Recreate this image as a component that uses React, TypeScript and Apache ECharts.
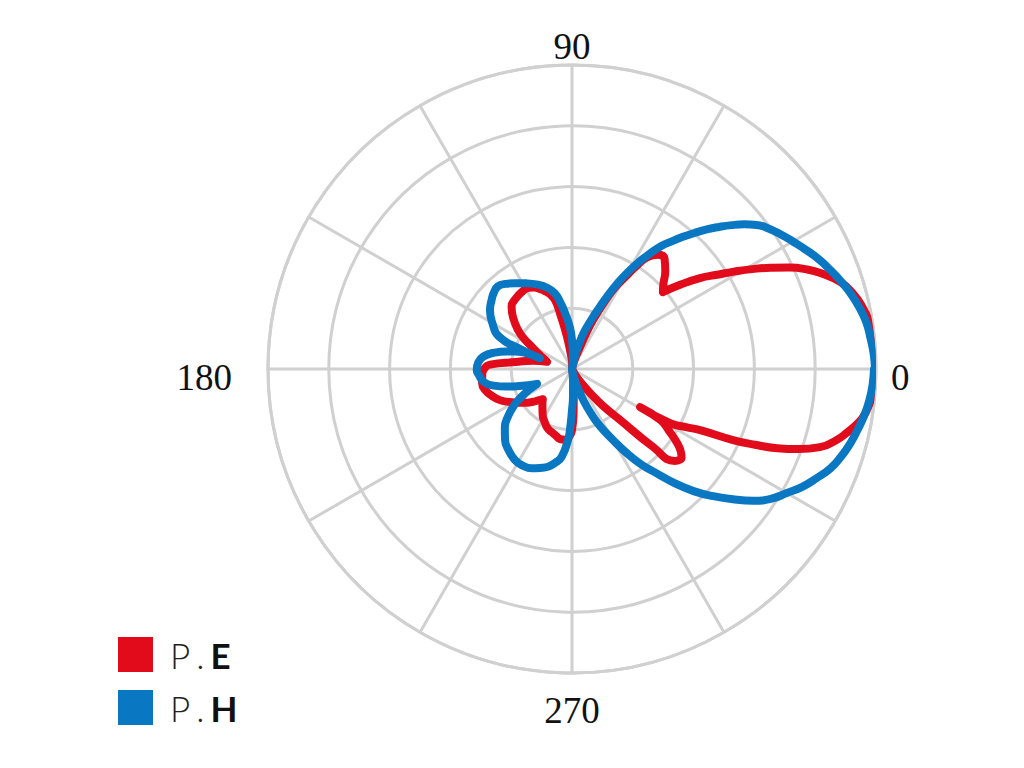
import React, { useEffect, useRef } from "react";
import * as echarts from "echarts";

// Pattern readings: angle (deg) and radius (outer ring = 304, five rings of 60.8)
const peAngles = [0, 3, 6, 9, 12, 15, 18, 21, 23, 25, 27, 29, 31, 33, 35.4, 37.9, 40.2, 43, 46.3, 50, 53, 56, 58, 60, 62.6, 64.5, 66.8, 68.5, 70, 75, 80, 88, 92, 96, 98, 100, 102, 103.8, 107, 111, 115, 118, 123, 129, 134, 139, 144, 148, 151, 155, 160, 164, 168, 173, 177, 180, 184, 189, 194, 199, 203, 206.6, 210, 213, 217, 220, 223, 226, 229, 232, 235.5, 238.7, 242, 245, 249, 253.5, 257, 260, 264.4, 268, 270, 272, 274, 278, 285, 300, 304, 307, 310, 313.3, 316.1, 318.2, 320, 321, 323, 325, 327.5, 330, 330.8, 331.1, 333, 334.5, 336.2, 337.5, 338.9, 340.5, 342.5, 345, 346.9, 349, 350.6, 353, 355.4, 358, 360];
const peValues = [305, 304.5, 303, 301, 297, 291, 282, 267, 255, 240, 223, 206, 189, 173, 157, 137, 119, 125, 135, 144, 143, 135, 121, 106, 89, 72, 53, 38, 23, 8, 0, 5, 10, 19, 28, 40, 55, 71, 79, 85, 90, 92, 92, 90, 87, 78, 67, 56, 46, 38, 30, 26, 40, 57, 82, 88, 90, 91, 89, 84, 79, 73, 67, 62, 56, 51, 46, 42, 45, 48, 52, 56, 59, 62, 65, 67, 69, 71, 71, 67, 61, 45, 25, 8, 0, 8, 18, 30, 48, 70, 112, 138, 141, 141, 136, 128, 115, 102, 78, 112, 128, 142, 176, 198, 220, 240, 260, 274, 282, 290, 295, 299, 302, 304, 305];

const phAngles = [0, 3, 6, 9, 12, 15, 18, 21, 24, 27, 30, 33, 36, 38, 40, 42, 44, 46, 48, 50, 52, 54, 56, 58, 60, 62, 64, 66, 68, 70, 72, 74, 76, 78, 81, 84, 86, 88, 90, 93, 97, 100, 103, 107, 112, 118, 123.6, 128, 132, 136, 139.3, 144.3, 150, 156, 159, 161.5, 163, 165, 168, 172, 176, 180.6, 184, 188, 192, 195, 198, 203, 206, 208.8, 212, 216.7, 221, 226.7, 232, 237.9, 243, 247.9, 252, 256.2, 260, 263.3, 266.8, 268.5, 270, 272, 274, 277, 280, 284, 287, 290, 293, 296, 300, 303, 306, 309, 312, 315, 318, 321, 324, 327, 330, 333, 336, 339, 342, 345, 348, 351, 354, 357, 360];
const phValues = [303, 302, 300, 298, 294, 289, 283, 276.5, 270, 262.5, 255, 248, 240.5, 234, 225, 215, 204.5, 194, 183, 172.5, 162, 152, 139, 126, 112, 97, 82, 67, 56, 46, 38, 28, 18, 8, 0, 8, 12, 20, 29, 42, 56, 68, 78, 85, 91, 97, 103, 108, 111, 109, 106, 101, 92, 80, 55, 34, 60, 68, 79, 89.5, 94, 95.3, 93, 89.6, 80, 68, 55, 38, 48, 57.4, 68, 80, 89, 97.6, 103, 107.4, 108.5, 107.2, 104, 100.6, 95, 88.3, 71, 56, 41, 28, 15, 6, 0, 10, 20, 33, 48, 63, 82, 100, 118, 134, 154, 173, 190, 207, 224, 238, 248, 259, 268, 277, 283, 288, 292, 296, 299, 301, 302, 302.5, 303];

const angleTickLabels = [0, 90, 180, 270];
const seriesNames = ["P.E", "P.H"];
const seriesColors = ["#e20b1b", "#0a77c2"];

const GRID = "#d0d0d0";

export default function App() {
  const ref = useRef<HTMLDivElement>(null);
  useEffect(() => {
    if (!ref.current) return;
    const chart = echarts.init(ref.current, undefined, { renderer: "svg" });
    const toData = (angs: number[], vals: number[]) => angs.map((a, i) => [vals[i], a]);
    chart.setOption({
      animation: false,
      backgroundColor: "#ffffff",
      polar: { center: [572, 369], radius: 304 },
      angleAxis: {
        type: "value",
        min: 0,
        max: 360,
        interval: 30,
        startAngle: 0,
        clockwise: false,
        axisLine: { show: true, lineStyle: { color: GRID, width: 3 } },
        axisTick: { show: false },
        splitLine: { show: true, lineStyle: { color: GRID, width: 3 } },
        axisLabel: {
          margin: 0,
          formatter: (v: number) => {
            if (v >= 360 || !angleTickLabels.includes(v)) return "";
            return `{l${v}|${v}}`;
          },
          rich: {
            l0: { fontFamily: "Liberation Serif", fontSize: 37, color: "#111", padding: [16, 0, 0, 15] },
            l90: { fontFamily: "Liberation Serif", fontSize: 37, color: "#111", padding: [0, 0, 0, 0] },
            l180: { fontFamily: "Liberation Serif", fontSize: 37, color: "#111", padding: [16, 36, 0, 0] },
            l270: { fontFamily: "Liberation Serif", fontSize: 37, color: "#111", padding: [19, 0, 0, 0] },
          },
        },
      },
      radiusAxis: {
        type: "value",
        min: 0,
        max: 304,
        interval: 60.8,
        axisLine: { show: false },
        axisTick: { show: false },
        axisLabel: { show: false },
        splitLine: { show: true, lineStyle: { color: GRID, width: 3 } },
      },
      legend: {
        data: seriesNames,
        orient: "vertical",
        left: 118,
        top: 637,
        itemWidth: 35,
        itemHeight: 35,
        itemGap: 18,
        icon: "rect",
        padding: 0,
        formatter: (name: string) => {
          const [p, q] = name.split(".");
          return `{a|${p}}{d|.}{b|${q}}`;
        },
        textStyle: {
          rich: {
            a: { fontFamily: "Lato", fontWeight: 300, fontSize: 35, color: "#222", padding: [0, 0, 0, 12], lineHeight: 35 },
            d: { fontFamily: "Lato", fontWeight: 300, fontSize: 35, color: "#222", padding: [0, 6, 0, 6], lineHeight: 35 },
            b: { fontFamily: "Lato", fontWeight: "bold", fontSize: 35, color: "#111", lineHeight: 35 },
          },
        },
      },
      series: [
        {
          name: seriesNames[0],
          type: "line",
          coordinateSystem: "polar",
          data: toData(peAngles, peValues),
          showSymbol: false,
          smooth: 0.5,
          color: seriesColors[0],
          lineStyle: { color: seriesColors[0], width: 8, join: "round", cap: "round" },
          z: 2,
        },
        {
          name: seriesNames[1],
          type: "line",
          coordinateSystem: "polar",
          data: toData(phAngles, phValues),
          showSymbol: false,
          smooth: 0.5,
          color: seriesColors[1],
          lineStyle: { color: seriesColors[1], width: 8, join: "round", cap: "round" },
          z: 3,
        },
      ],
    });
    return () => chart.dispose();
  }, []);
  return (
    <div
      ref={ref}
      style={{ position: "fixed", left: 0, top: 0, width: 1024, height: 768, background: "#fff" }}
    />
  );
}
